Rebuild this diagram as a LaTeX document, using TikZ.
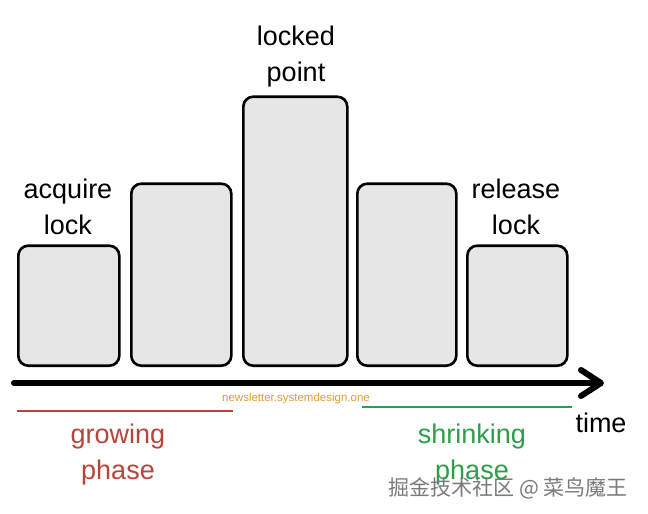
\documentclass[tikz,border=0pt]{standalone}
\usepackage{fontspec}
\setsansfont{Liberation Sans}
\newfontfamily\cjk{Noto Sans CJK SC}
\usepackage{tikz}
\usetikzlibrary{arrows.meta,positioning}
\usepackage{xcolor}
\definecolor{boxGray}{HTML}{E6E6E6}
\definecolor{growRed}{HTML}{B5453D}
\definecolor{shrinkGreen}{HTML}{2E9E4B}
\definecolor{siteOrange}{HTML}{D9A032}
\definecolor{markGray}{HTML}{7A7A7A}

\begin{document}
\begin{tikzpicture}[
  x=1pt, y=-1pt,
  font=\sffamily,
  lockbox/.style={
    draw=black,
    fill=boxGray,
    rounded corners=10pt,
    line width=2.6pt,
    inner sep=0pt,
    minimum width=100pt,
    anchor=south west
  },
  steplabel/.style={
    font=\sffamily\fontsize{27}{36}\selectfont,
    align=center,
    inner sep=0pt,
    anchor=base
  },
  phaselabel/.style={
    font=\sffamily\fontsize{27}{36}\selectfont,
    align=center,
    inner sep=0pt,
    anchor=base
  }
]

  \useasboundingbox[fill=white] (0,0) rectangle (648,514);

  % ----------------------------------------------------
  % LOCK BOXES
  % ----------------------------------------------------
  \node[lockbox, minimum width=101pt, minimum height=120pt] (box_acquire) at (17,367) {};
  \node[lockbox, minimum height=182pt] (box_grow) at (130,367) {};
  \node[lockbox, minimum width=104pt, minimum height=269pt] (box_locked) at (242,367) {};
  \node[lockbox, minimum width=99pt, minimum height=182pt] (box_shrink) at (356,367) {};
  \node[lockbox, minimum height=120pt] (box_release) at (466,367) {};

  % ----------------------------------------------------
  % LABELS ABOVE THE BOXES (base = last line)
  % ----------------------------------------------------
  \node[steplabel] (lbl_acquire) at (68,234) {acquire\\lock};
  \node[steplabel] (lbl_locked) at (296,81) {locked\\point};
  \node[steplabel] (lbl_release) at (516,234) {release\\lock};

  % ----------------------------------------------------
  % TIME AXIS
  % ----------------------------------------------------
  \coordinate (t_start) at (14,383);
  \coordinate (t_end) at (604,383);
  \draw[line width=6pt, line cap=round, -{Straight Barb[length=20pt,width=26pt,line cap=round,line join=round]}]
    (t_start) -- (t_end);
  \node[font=\sffamily\fontsize{27}{30}\selectfont, anchor=base, inner sep=0pt] (lbl_time) at (601,432) {time};

  \node[font=\sffamily\fontsize{11.5}{14}\selectfont, text=siteOrange, anchor=base, inner sep=0pt] (lbl_site) at (296,401) {newsletter.systemdesign.one};

  % ----------------------------------------------------
  % PHASES
  % ----------------------------------------------------
  \coordinate (grow_l) at (17,411);
  \coordinate (grow_r) at (233,411);
  \coordinate (shrink_l) at (362,407);
  \coordinate (shrink_r) at (572,407);
  \draw[line width=2.6pt, growRed] (grow_l) -- (grow_r);
  \draw[line width=2.6pt, shrinkGreen] (shrink_l) -- (shrink_r);

  \node[phaselabel, text=growRed] (lbl_growing) at (118,479) {growing\\phase};
  \node[phaselabel, text=shrinkGreen] (lbl_shrinking) at (472,479) {shrinking\\phase};

  % watermark
  \node[font=\cjk\fontsize{21}{24}\selectfont, text=markGray, anchor=base, inner sep=0pt] (lbl_mark) at (508,495) {掘金技术社区 @ 菜鸟魔王};

\end{tikzpicture}
\end{document}
